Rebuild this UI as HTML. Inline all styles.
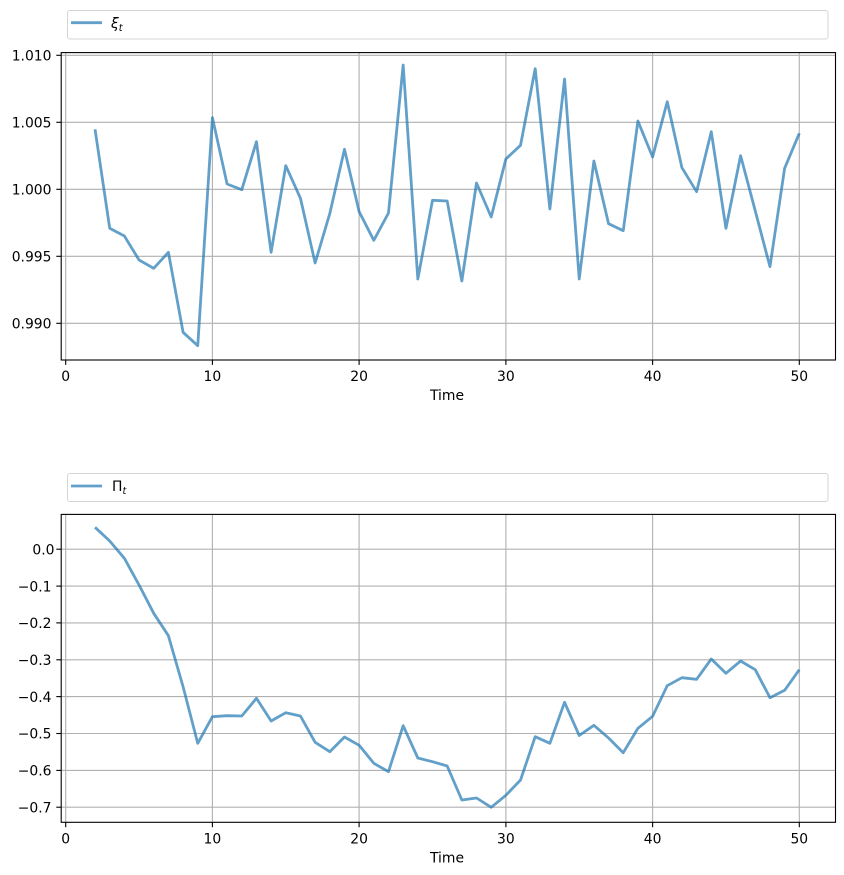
<!DOCTYPE html>
<html>
<head>
<meta charset="utf-8">
<style>
html,body{margin:0;padding:0;background:#fff;}
svg{display:block;}
text{font-family:"DejaVu Sans","Liberation Sans",sans-serif;font-size:13.9px;fill:#000;}
</style>
</head>
<body>
<svg width="844" height="875" viewBox="0 0 844 875" xmlns="http://www.w3.org/2000/svg">
<rect x="0" y="0" width="844" height="875" fill="#fff"/>

<!-- ================= TOP PLOT ================= -->
<rect x="67.5" y="10.5" width="760.5" height="28.5" rx="2.5" ry="2.5" fill="#fff" stroke="#d4d4d4" stroke-width="1"/>
<line x1="71" y1="22.7" x2="102" y2="22.7" stroke="#1f77b4" stroke-opacity="0.7" stroke-width="2.8"/>
<text x="111" y="28" font-style="italic">ξ<tspan font-size="9.7px" dy="3">t</tspan></text>

<g stroke="#b0b0b0" stroke-width="1.1">
<line x1="65.7" y1="52.6" x2="65.7" y2="360"/>
<line x1="212.4" y1="52.6" x2="212.4" y2="360"/>
<line x1="359.1" y1="52.6" x2="359.1" y2="360"/>
<line x1="505.9" y1="52.6" x2="505.9" y2="360"/>
<line x1="652.6" y1="52.6" x2="652.6" y2="360"/>
<line x1="799.3" y1="52.6" x2="799.3" y2="360"/>
<line x1="61.2" y1="55.3" x2="835.5" y2="55.3"/>
<line x1="61.2" y1="122.3" x2="835.5" y2="122.3"/>
<line x1="61.2" y1="189.3" x2="835.5" y2="189.3"/>
<line x1="61.2" y1="256.3" x2="835.5" y2="256.3"/>
<line x1="61.2" y1="323.3" x2="835.5" y2="323.3"/>
</g>

<polyline fill="none" stroke="#1f77b4" stroke-opacity="0.7" stroke-width="2.8" stroke-linejoin="round" stroke-linecap="butt"
points="95.04,129.3 109.72,228.3 124.39,236 139.06,260 153.73,268.3 168.40,252.3 183.08,332.3 197.75,345.7 212.42,117.7 227.09,184 241.76,189.7 256.44,141.7 271.11,252.3 285.78,165.7 300.45,198.3 315.12,263 329.80,213.5 344.47,149.3 359.14,211.7 373.81,240.3 388.48,213 403.16,65 417.83,279 432.50,200.3 447.17,201 461.84,281 476.52,183 491.19,217 505.86,159 520.53,145.3 535.20,68.7 549.88,209 564.55,79 579.22,279 593.89,161 608.56,223.7 623.24,230.7 637.91,121 652.58,157 667.25,101.7 681.92,167.7 696.60,191.7 711.27,131.7 725.94,228.3 740.61,155.7 755.28,211 769.96,266.7 784.63,168.3 799.30,133.3"/>

<rect x="61.2" y="52.6" width="774.3" height="307.4" fill="none" stroke="#000" stroke-width="1.1"/>

<g stroke="#000" stroke-width="1.1">
<line x1="65.7" y1="360" x2="65.7" y2="364.9"/>
<line x1="212.4" y1="360" x2="212.4" y2="364.9"/>
<line x1="359.1" y1="360" x2="359.1" y2="364.9"/>
<line x1="505.9" y1="360" x2="505.9" y2="364.9"/>
<line x1="652.6" y1="360" x2="652.6" y2="364.9"/>
<line x1="799.3" y1="360" x2="799.3" y2="364.9"/>
<line x1="56.3" y1="55.3" x2="61.2" y2="55.3"/>
<line x1="56.3" y1="122.3" x2="61.2" y2="122.3"/>
<line x1="56.3" y1="189.3" x2="61.2" y2="189.3"/>
<line x1="56.3" y1="256.3" x2="61.2" y2="256.3"/>
<line x1="56.3" y1="323.3" x2="61.2" y2="323.3"/>
</g>

<g text-anchor="middle">
<text x="65.7" y="381">0</text>
<text x="212.4" y="381">10</text>
<text x="359.1" y="381">20</text>
<text x="505.9" y="381">30</text>
<text x="652.6" y="381">40</text>
<text x="799.3" y="381">50</text>
<text x="447" y="400">Time</text>
</g>
<g text-anchor="end">
<text x="51.5" y="60.5">1.010</text>
<text x="51.5" y="127.5">1.005</text>
<text x="51.5" y="194.5">1.000</text>
<text x="51.5" y="261.5">0.995</text>
<text x="51.5" y="328.5">0.990</text>
</g>

<!-- ================= BOTTOM PLOT ================= -->
<rect x="67.5" y="473.5" width="760.5" height="28" rx="2.5" ry="2.5" fill="#fff" stroke="#d4d4d4" stroke-width="1"/>
<line x1="71" y1="486" x2="102" y2="486" stroke="#1f77b4" stroke-opacity="0.7" stroke-width="2.8"/>
<text x="112" y="491">Π<tspan font-size="9.7px" dy="3" font-style="italic">t</tspan></text>

<g stroke="#b0b0b0" stroke-width="1.1">
<line x1="65.7" y1="514.4" x2="65.7" y2="822.3"/>
<line x1="212.4" y1="514.4" x2="212.4" y2="822.3"/>
<line x1="359.1" y1="514.4" x2="359.1" y2="822.3"/>
<line x1="505.9" y1="514.4" x2="505.9" y2="822.3"/>
<line x1="652.6" y1="514.4" x2="652.6" y2="822.3"/>
<line x1="799.3" y1="514.4" x2="799.3" y2="822.3"/>
<line x1="61.2" y1="549.2" x2="835.5" y2="549.2"/>
<line x1="61.2" y1="586.1" x2="835.5" y2="586.1"/>
<line x1="61.2" y1="622.9" x2="835.5" y2="622.9"/>
<line x1="61.2" y1="659.8" x2="835.5" y2="659.8"/>
<line x1="61.2" y1="696.6" x2="835.5" y2="696.6"/>
<line x1="61.2" y1="733.5" x2="835.5" y2="733.5"/>
<line x1="61.2" y1="770.4" x2="835.5" y2="770.4"/>
<line x1="61.2" y1="807.2" x2="835.5" y2="807.2"/>
</g>

<polyline fill="none" stroke="#1f77b4" stroke-opacity="0.7" stroke-width="2.8" stroke-linejoin="round" stroke-linecap="butt"
points="95.04,527.3 109.72,541 124.39,558.3 139.06,585 153.73,613.3 168.40,635.7 183.08,686.7 197.75,743.3 212.42,716.7 227.09,715.7 241.76,716 256.44,698.3 271.11,721 285.78,712.7 300.45,716 315.12,742.3 329.80,751.7 344.47,737 359.14,745.3 373.81,763.3 388.48,771.7 403.16,725.7 417.83,758 432.50,761.7 447.17,766 461.84,800 476.52,798 491.19,807.3 505.86,795.3 520.53,780 535.20,736.7 549.88,743.3 564.55,702.3 579.22,735.5 593.89,725.3 608.56,738 623.24,752.7 637.91,728.3 652.58,716.3 667.25,685.7 681.92,677.7 696.60,679.3 711.27,659 725.94,673.3 740.61,661 755.28,669.7 769.96,697.7 784.63,690.3 799.30,669.7"/>

<rect x="61.2" y="514.4" width="774.3" height="307.9" fill="none" stroke="#000" stroke-width="1.1"/>

<g stroke="#000" stroke-width="1.1">
<line x1="65.7" y1="822.3" x2="65.7" y2="827.2"/>
<line x1="212.4" y1="822.3" x2="212.4" y2="827.2"/>
<line x1="359.1" y1="822.3" x2="359.1" y2="827.2"/>
<line x1="505.9" y1="822.3" x2="505.9" y2="827.2"/>
<line x1="652.6" y1="822.3" x2="652.6" y2="827.2"/>
<line x1="799.3" y1="822.3" x2="799.3" y2="827.2"/>
<line x1="56.3" y1="549.2" x2="61.2" y2="549.2"/>
<line x1="56.3" y1="586.1" x2="61.2" y2="586.1"/>
<line x1="56.3" y1="622.9" x2="61.2" y2="622.9"/>
<line x1="56.3" y1="659.8" x2="61.2" y2="659.8"/>
<line x1="56.3" y1="696.6" x2="61.2" y2="696.6"/>
<line x1="56.3" y1="733.5" x2="61.2" y2="733.5"/>
<line x1="56.3" y1="770.4" x2="61.2" y2="770.4"/>
<line x1="56.3" y1="807.2" x2="61.2" y2="807.2"/>
</g>

<g text-anchor="middle">
<text x="65.7" y="843.3">0</text>
<text x="212.4" y="843.3">10</text>
<text x="359.1" y="843.3">20</text>
<text x="505.9" y="843.3">30</text>
<text x="652.6" y="843.3">40</text>
<text x="799.3" y="843.3">50</text>
<text x="447" y="862.3">Time</text>
</g>
<g text-anchor="end">
<text x="54.5" y="554.4">0.0</text>
<text x="51.5" y="591.3">−0.1</text>
<text x="51.5" y="628.1">−0.2</text>
<text x="51.5" y="665">−0.3</text>
<text x="51.5" y="701.8">−0.4</text>
<text x="51.5" y="738.7">−0.5</text>
<text x="51.5" y="775.6">−0.6</text>
<text x="51.5" y="812.4">−0.7</text>
</g>
</svg>
</body>
</html>
